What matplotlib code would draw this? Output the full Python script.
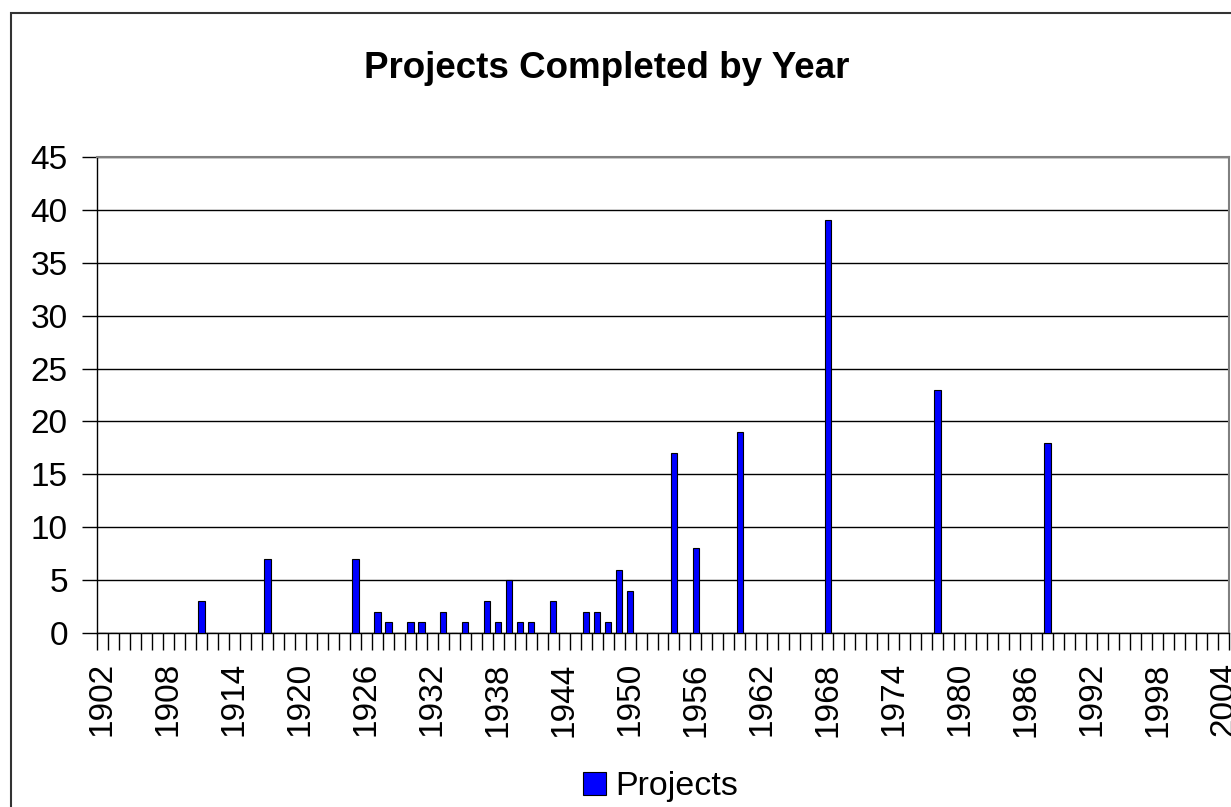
import numpy as np
import matplotlib
matplotlib.use("Agg")
import matplotlib.pyplot as plt
from matplotlib.patches import Rectangle

plt.rcParams['font.family'] = ['Liberation Sans', 'DejaVu Sans']

# categories shown on the axis
first_year = 1902
last_year = 2004
# years that had completed projects, and how many
project_years = [1911, 1917, 1925, 1927, 1928, 1930, 1931, 1933, 1935, 1937,
                 1938, 1939, 1940, 1941, 1943, 1946, 1947, 1948, 1949, 1950,
                 1954, 1956, 1960, 1968, 1978, 1988]
project_counts = [3, 7, 7, 2, 1, 1, 1, 2, 1, 3,
                  1, 5, 1, 1, 3, 2, 2, 1, 6, 4,
                  17, 8, 19, 39, 23, 18]
y_ticks = [0, 5, 10, 15, 20, 25, 30, 35, 40, 45]

years = list(range(first_year, last_year + 1))
counts = [0] * len(years)
for y, c in zip(project_years, project_counts):
    counts[years.index(y)] = c

W, H = 1231, 807
fig = plt.figure(figsize=(W / 100, H / 100), dpi=100)
ax = fig.add_axes([97 / W, 1 - 633 / H, (1229 - 97) / W, (633 - 157) / H])

x = np.arange(len(years))
ax.bar(x, counts, width=0.6, color='#0000FF', edgecolor='black',
       linewidth=0.8, zorder=3, label='Projects')

ax.set_xlim(-0.5, len(years) - 0.5)
ax.set_ylim(0, 45)
ax.set_yticks(y_ticks)
ax.set_yticklabels([str(v) for v in y_ticks], fontsize=24)
ax.yaxis.grid(True, color='black', linewidth=1, zorder=0)
ax.set_axisbelow(True)

# labels every 6 years at category centers, ticks at category boundaries
lab_idx = [i for i, y in enumerate(years) if (y - first_year) % 6 == 0]
ax.set_xticks(lab_idx)
ax.set_xticklabels([str(years[i]) for i in lab_idx], rotation=90,
                   fontsize=24, va='top', ha='center')
ax.tick_params(axis='x', which='major', length=0, pad=21)
ax.set_xticks(np.arange(-0.5, len(years), 1.0), minor=True)
ax.tick_params(axis='x', which='minor', length=12, width=1, color='black',
               direction='out')
ax.tick_params(axis='y', length=11, width=1, color='black', pad=10)

for s in ['left', 'bottom']:
    ax.spines[s].set_color('black')
    ax.spines[s].set_linewidth(1)
for s in ['top', 'right']:
    ax.spines[s].set_color('#808080')
    ax.spines[s].set_linewidth(1.5)

fig.text(607 / W, 1 - 69 / H, 'Projects Completed by Year', fontsize=26.5,
         fontweight='bold', ha='center', va='center')

fig.legend(loc='center', bbox_to_anchor=(661 / W, 1 - 787 / H), frameon=False,
           fontsize=24.5, handlelength=0.65, handleheight=0.65,
           handletextpad=0.3)

# chart border
fig.patches.append(Rectangle((11 / W, -0.01), 1.02, 1 - 13 / H + 0.01,
                             transform=fig.transFigure, fill=False,
                             edgecolor='#333333', linewidth=1.5))

fig.savefig('out.png', dpi=100)
